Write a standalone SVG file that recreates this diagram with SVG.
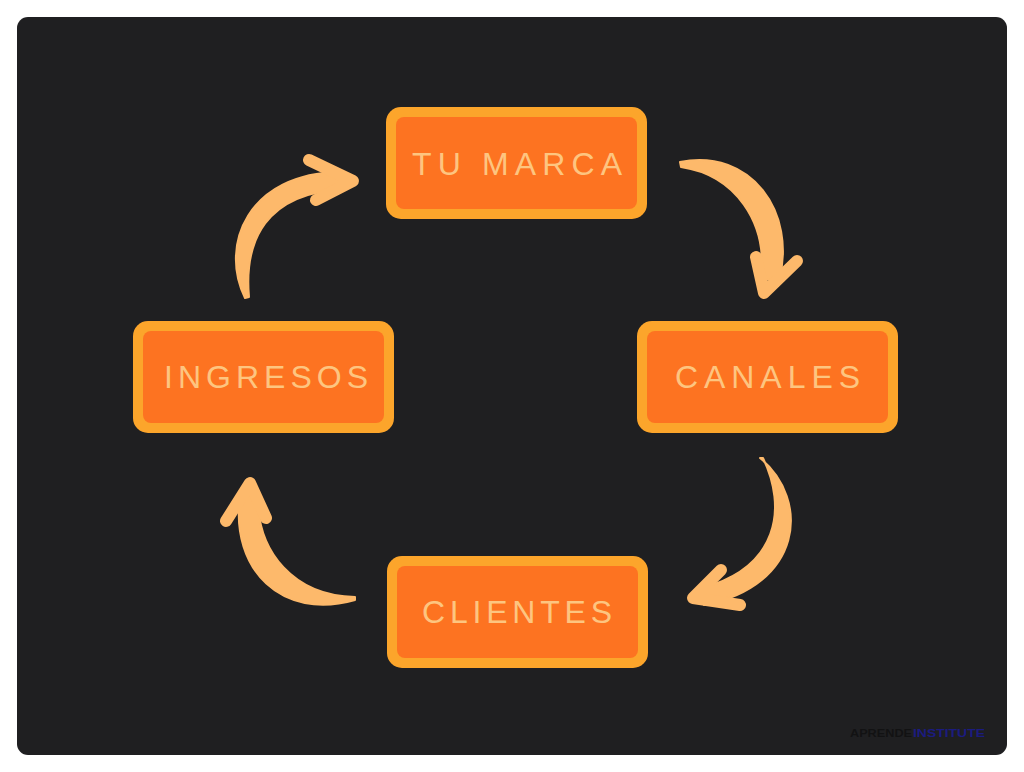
<svg xmlns="http://www.w3.org/2000/svg" width="1024" height="772" viewBox="0 0 1024 772">
<style>
.outer{fill:#fca52b}
.inner{fill:#fd7321}
.lbl{font-family:"Liberation Sans","Open Sans",sans-serif;font-size:32px;fill:#fdc580;text-anchor:middle}
.arrow{fill:#fdb96b;stroke:#fdb96b;stroke-width:2;stroke-linejoin:round}
.head{fill:none;stroke:#fdb96b;stroke-width:12;stroke-linecap:round;stroke-linejoin:round}
</style>
<rect x="0" y="0" width="1024" height="772" fill="#ffffff"/>
<rect x="17" y="17" width="990" height="738" rx="11" fill="#1f1f21"/>
<g id="connectors">
  <g id="arrow-ingresos-marca">
    <path class="arrow" d="M245,298 C219,245 248,173 340,172 L342,189 C266,194 244,240 249,297 Z"/>
    <path class="head" d="M309,160 L353,181 L316,200"/>
  </g>
  <g id="arrow-marca-canales">
    <path class="arrow" d="M680,162 C751,148 797,212 779,281 L761,279 C768,222 735,175 681,167 Z"/>
    <path class="head" d="M756,257 L764,293 L797,261"/>
  </g>
  <g id="arrow-canales-clientes">
    <path class="arrow" d="M760,458 C811,500 803,586 704,605 L702,588 C779,567 787,508 763,458 Z"/>
    <path class="head" d="M721,570 L693,598 L740,605"/>
  </g>
  <g id="arrow-clientes-ingresos">
    <path class="arrow" d="M355,600 C282,621 230,570 240,496 L258,496 C257,553 295,596 355,597 Z"/>
    <path class="head" d="M226,521 L250,483 L266,518"/>
  </g>
</g>
<g id="node-tu-marca">
  <rect class="outer" x="386" y="107" width="261" height="112" rx="15"/>
  <rect class="inner" x="396" y="117" width="241" height="92" rx="8"/>
  <text class="lbl" x="517" y="175" textLength="210" lengthAdjust="spacing">TU MARCA</text>
</g>
<g id="node-canales">
  <rect class="outer" x="637" y="321" width="261" height="112" rx="15"/>
  <rect class="inner" x="647" y="331" width="241" height="92" rx="8"/>
  <text class="lbl" x="767.5" y="388" textLength="185" lengthAdjust="spacing">CANALES</text>
</g>
<g id="node-clientes">
  <rect class="outer" x="387" y="556" width="261" height="112" rx="15"/>
  <rect class="inner" x="397" y="566" width="241" height="92" rx="8"/>
  <text class="lbl" x="517" y="623" textLength="190" lengthAdjust="spacing">CLIENTES</text>
</g>
<g id="node-ingresos">
  <rect class="outer" x="133" y="321" width="261" height="112" rx="15"/>
  <rect class="inner" x="143" y="331" width="241" height="92" rx="8"/>
  <text class="lbl" x="266" y="388" textLength="204" lengthAdjust="spacing">INGRESOS</text>
</g>
<g id="watermark" font-family="Liberation Sans, sans-serif" font-size="11" font-weight="bold">
  <text x="850" y="737" fill="#121213" textLength="62" lengthAdjust="spacingAndGlyphs">APRENDE</text>
  <text x="913" y="737" fill="#1b1b80" textLength="72" lengthAdjust="spacingAndGlyphs">INSTITUTE</text>
</g>
</svg>
